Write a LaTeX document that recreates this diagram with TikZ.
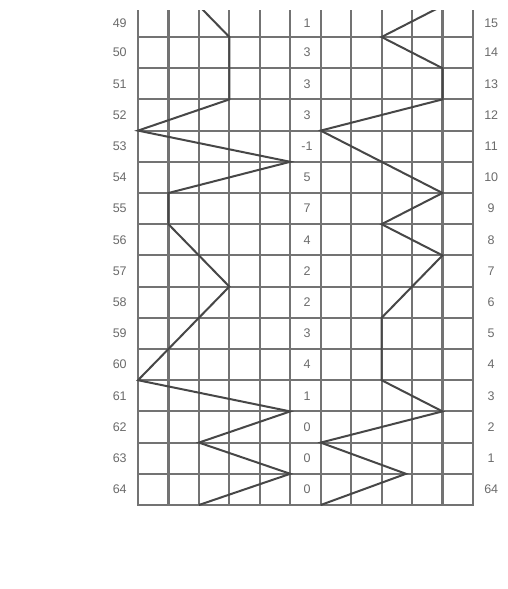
\documentclass[tikz,border=0pt]{standalone}
\usepackage{fontspec}
\setmainfont{Liberation Sans}
\begin{document}
\begin{tikzpicture}[x=1pt,y=1pt,
  gridline/.style={draw=black!55,line width=2.1pt},
  zig/.style={draw=black!72,line width=2pt,line join=miter},
  lbl/.style={text=black!58,font=\fontsize{12.5}{12.5}\selectfont,inner sep=0pt}]
\useasboundingbox (0,0) rectangle (508,-589);
\fill[white] (0,0) rectangle (508,-589);
\begin{scope}
\clip (128,-10) rectangle (482,-512);
\begin{scope}[shift={(138,-5.8)},x=30.45pt,y=-31.2pt]
\foreach \i in {0,...,11} \draw[gridline] (\i,0) -- (\i,16);
\foreach \j in {0,...,16} \draw[gridline] (-0.03,\j) -- (11.03,\j);
% left zigzag
\draw[zig] (2,0) -- (3,1) -- (3,3) -- (0,4) -- (5,5) -- (1,6) -- (1,7) -- (3,9)
  -- (0,12) -- (5,13) -- (2,14) -- (5,15) -- (2,16);
% right zigzag
\draw[zig] (10,0) -- (8,1) -- (10,2) -- (10,3) -- (6,4) -- (10,6) -- (8,7) -- (10,8)
  -- (8,10) -- (8,12) -- (10,13) -- (6,14) -- (8.8,15) -- (6,16);
\end{scope}
\end{scope}
\begin{scope}[shift={(138,-5.8)},x=30.45pt,y=-31.2pt]
\foreach \k/\a/\b/\c in {0/49/1/15,1/50/3/14,2/51/3/13,3/52/3/12,4/53/-1/11,
  5/54/5/10,6/55/7/9,7/56/4/8,8/57/2/7,9/58/2/6,10/59/3/5,11/60/4/4,
  12/61/1/3,13/62/0/2,14/63/0/1,15/64/0/64}{
  \pgfmathsetmacro{\yy}{ifthenelse(\k==0,0.57,\k+0.5)}
  \node[lbl] (left\k) at (-0.6,\yy) {\a};
  \node[lbl] (mid\k) at (5.55,\yy) {\b};
  \node[lbl] (right\k) at (11.6,\yy) {\c};
}
\end{scope}
\end{tikzpicture}
\end{document}
